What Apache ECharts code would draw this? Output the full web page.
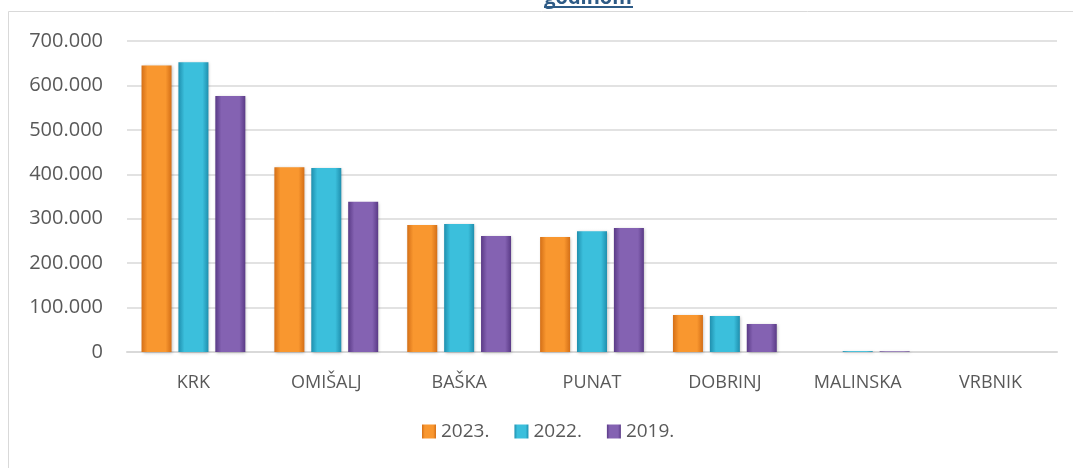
<!DOCTYPE html>
<html>
<head>
<meta charset="utf-8">
<script src="https://cdn.jsdelivr.net/npm/echarts@6/dist/echarts.min.js"></script>
<style>
  html, body { margin: 0; padding: 0; background: #fff; }
  #chart { width: 1073px; height: 468px; }
</style>
</head>
<body>
<div id="chart"></div>
<script>
const categories = ["KRK", "OMIŠALJ", "BAŠKA", "PUNAT", "DOBRINJ", "MALINSKA", "VRBNIK"];
const years = ["2023.", "2022.", "2019."];
const v2023 = [645000, 416000, 286000, 259000, 83000, 0, 0];
const v2022 = [652000, 414000, 288000, 272000, 81000, 2000, 0];
const v2019 = [576000, 338000, 261000, 279000, 63000, 1500, 0];

const FONT = "Open Sans, Noto Sans, sans-serif";

const bevel = (edge, mid) => new echarts.graphic.LinearGradient(0, 0, 1, 0, [
  { offset: 0, color: edge },
  { offset: 0.2, color: mid },
  { offset: 0.8, color: mid },
  { offset: 1, color: edge },
]);

const mkBar = (name, data, edge, mid) => ({
  name,
  type: "bar",
  data,
  barWidth: 30,
  barGap: "23%",
  itemStyle: {
    color: bevel(edge, mid),
    shadowColor: "rgba(0,0,0,0.25)",
    shadowBlur: 3,
    shadowOffsetX: 1,
    shadowOffsetY: 1,
  },
});

const chart = echarts.init(document.getElementById("chart"));
chart.setOption({
  animation: false,
  backgroundColor: "#fff",
  graphic: [
    { type: "rect", shape: { x: 8.5, y: 11.5, width: 1200, height: 600 }, style: { fill: "none", stroke: "#d9d9d9", lineWidth: 1 }, silent: true },
    { type: "text", x: 588, y: -12, style: { text: "godinom", font: "bold 20px " + FONT, fill: "#2e5b86", align: "center" }, silent: true },
    { type: "rect", shape: { x: 544, y: 6, width: 89, height: 2 }, style: { fill: "#2e5b86" }, silent: true },
  ],
  grid: { left: 127, right: 16, top: 41, bottom: 116 },
  legend: {
    bottom: 22,
    left: 417,
    itemWidth: 14,
    itemHeight: 14,
    itemGap: 25,
    icon: "rect",
    textStyle: { color: "#595959", fontSize: 19, fontFamily: FONT },
    data: years,
  },
  xAxis: {
    type: "category",
    data: categories,
    axisLine: { show: true, lineStyle: { color: "#d9d9d9", width: 2 } },
    axisTick: { show: false },
    axisLabel: { color: "#595959", fontSize: 18, fontFamily: FONT, margin: 22 },
  },
  yAxis: {
    type: "value",
    min: 0,
    max: 700000,
    interval: 100000,
    axisLine: { show: false },
    axisTick: { show: false },
    splitLine: { lineStyle: { color: "#d9d9d9", width: 1.5 } },
    axisLabel: {
      color: "#595959",
      fontSize: 20,
      fontFamily: FONT,
      margin: 24,
      formatter: (v) => v === 0 ? "0" : String(v).replace(/\B(?=(\d{3})+(?!\d))/g, "."),
    },
  },
  series: [
    mkBar(years[0], v2023, "#d46f17", "#f9972f"),
    mkBar(years[1], v2022, "#1f8fae", "#3bbfdc"),
    mkBar(years[2], v2019, "#5a3a86", "#8462b2"),
  ],
});
</script>
</body>
</html>
